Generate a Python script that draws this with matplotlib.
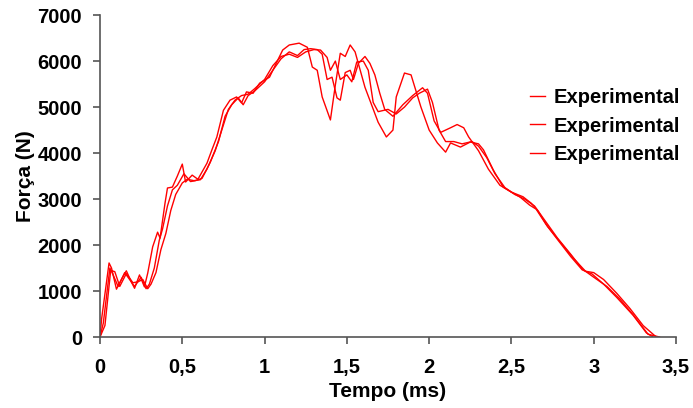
import matplotlib
matplotlib.use('Agg')
import matplotlib.pyplot as plt

plt.rcParams['font.family'] = ['Liberation Sans', 'DejaVu Sans']
plt.rcParams['font.weight'] = 'bold'

# curve 1 (deepest dips)
t1 = [0, 0.01, 0.055, 0.07, 0.10, 0.13, 0.16, 0.19, 0.21, 0.24, 0.27, 0.29, 0.32, 0.35, 0.365,
      0.395, 0.41, 0.44, 0.47, 0.50, 0.52, 0.56, 0.595, 0.65, 0.68, 0.71, 0.75, 0.79, 0.83, 0.86,
      0.89, 0.93, 0.97, 1.03, 1.08, 1.11, 1.15, 1.21, 1.26, 1.29, 1.32, 1.35, 1.40, 1.43, 1.46,
      1.49, 1.52, 1.55, 1.61, 1.69, 1.74, 1.78, 1.80, 1.85, 1.89, 1.95, 2.00, 2.05, 2.10, 2.13,
      2.19, 2.25, 2.30, 2.33, 2.39, 2.45, 2.50, 2.55, 2.61, 2.65, 2.71, 2.78, 2.86, 2.93, 2.99,
      3.06, 3.14, 3.24, 3.32, 3.36]
f1 = [0, 400, 1610, 1500, 1040, 1250, 1440, 1200, 1060, 1350, 1090, 1390, 1960, 2280, 2150,
      2910, 3240, 3260, 3500, 3760, 3370, 3520, 3430, 3780, 4070, 4350, 4930, 5150, 5220, 5090,
      5330, 5300, 5520, 5650, 6020, 6240, 6350, 6390, 6300, 5870, 5800, 5220, 4720, 5480, 6170,
      6100, 6350, 6200, 5430, 4670, 4350, 4500, 5220, 5740, 5700, 5000, 4500, 4220, 4020, 4220,
      4130, 4240, 4200, 4070, 3630, 3260, 3150, 3050, 2870, 2780, 2450, 2120, 1750, 1460, 1370,
      1150, 860, 470, 90, 0]

# curve 2
t2 = [0, 0.02, 0.06, 0.08, 0.11, 0.15, 0.18, 0.21, 0.25, 0.28, 0.30, 0.33, 0.36, 0.38, 0.41,
      0.44, 0.47, 0.51, 0.55, 0.58, 0.62, 0.67, 0.72, 0.76, 0.80, 0.84, 0.87, 0.90, 0.94, 0.97,
      1.00, 1.05, 1.10, 1.15, 1.20, 1.24, 1.28, 1.32, 1.35, 1.38, 1.41, 1.44, 1.46, 1.49, 1.52,
      1.54, 1.57, 1.61, 1.64, 1.67, 1.70, 1.73, 1.78, 1.84, 1.90, 1.96, 1.99, 2.03, 2.07, 2.13,
      2.17, 2.21, 2.24, 2.30, 2.36, 2.43, 2.50, 2.57, 2.62, 2.66, 2.72, 2.80, 2.88, 2.95, 3.00,
      3.06, 3.14, 3.22, 3.30, 3.38]
f2 = [0, 300, 1500, 1350, 1100, 1400, 1250, 1100, 1300, 1050, 1150, 1500, 2100, 2350, 2850,
      3200, 3300, 3550, 3380, 3400, 3450, 3800, 4250, 4800, 5050, 5200, 5050, 5250, 5350, 5450,
      5550, 5800, 6050, 6200, 6120, 6250, 6270, 6250, 6150, 5600, 5650, 5200, 5150, 5750, 5800,
      5600, 5950, 6100, 5950, 5700, 5300, 4950, 4800, 5050, 5250, 5420, 5300, 4700, 4450, 4550,
      4620, 4550, 4350, 4050, 3650, 3300, 3150, 3050, 2910, 2750, 2400, 2050, 1700, 1430, 1400,
      1250, 950, 620, 250, 0]

# curve 3
t3 = [0, 0.03, 0.065, 0.09, 0.12, 0.16, 0.20, 0.23, 0.26, 0.29, 0.31, 0.34, 0.37, 0.40, 0.43,
      0.46, 0.50, 0.53, 0.57, 0.61, 0.65, 0.70, 0.74, 0.78, 0.82, 0.86, 0.90, 0.94, 1.00, 1.05,
      1.10, 1.15, 1.20, 1.25, 1.30, 1.34, 1.38, 1.40, 1.43, 1.46, 1.50, 1.53, 1.56, 1.60, 1.63,
      1.66, 1.69, 1.75, 1.80, 1.85, 1.90, 1.94, 1.99, 2.02, 2.06, 2.10, 2.15, 2.20, 2.26, 2.30,
      2.35, 2.40, 2.46, 2.52, 2.58, 2.64, 2.70, 2.78, 2.86, 2.93, 3.00, 3.08, 3.16, 3.24, 3.33,
      3.40]
f3 = [0, 250, 1450, 1420, 1100, 1380, 1180, 1200, 1250, 1050, 1150, 1400, 1900, 2250, 2750,
      3100, 3350, 3430, 3400, 3420, 3650, 4050, 4500, 4950, 5150, 5250, 5280, 5400, 5600, 5900,
      6100, 6150, 6080, 6200, 6250, 6240, 6080, 5800, 6000, 5600, 5700, 5550, 5980, 6000, 5800,
      5100, 4900, 4950, 4850, 5000, 5200, 5300, 5390, 5100, 4500, 4250, 4250, 4200, 4250, 4150,
      3900, 3550, 3250, 3100, 3000, 2850, 2550, 2150, 1800, 1480, 1300, 1100, 820, 480, 60,
      0]

labels = ['Experimental', 'Experimental', 'Experimental']

fig = plt.figure(figsize=(6.93, 4.08), dpi=100)
ax = fig.add_axes([0.1443, 0.174, 0.8312, 0.789])

for t, f, lab in zip([t1, t2, t3], [f1, f2, f3], labels):
    ax.plot(t, f, color='red', lw=1.0, label=lab)

ax.set_xlim(0, 3.5)
ax.set_ylim(0, 7000)
ax.set_xticks([0, 0.5, 1, 1.5, 2, 2.5, 3, 3.5])
ax.set_xticklabels(['0', '0,5', '1', '1,5', '2', '2,5', '3', '3,5'])
ax.set_yticks(range(0, 7001, 1000))
ax.tick_params(labelsize=14.5, direction='out', length=5, color='#555555', width=1.2)
ax.tick_params(axis='x', pad=10)
ax.tick_params(axis='y', pad=8)
for s in ['top', 'right']:
    ax.spines[s].set_visible(False)
for s in ['left', 'bottom']:
    ax.spines[s].set_color('#555555')
    ax.spines[s].set_linewidth(1.2)

ax.set_xlabel('Tempo (ms)', fontsize=15, fontweight='bold', labelpad=4)
ax.set_ylabel('Força (N)', fontsize=15, fontweight='bold', labelpad=2)

ax.legend(loc='center left', bbox_to_anchor=(530 / 693, 1 - 126 / 408),
          bbox_transform=fig.transFigure, frameon=False, fontsize=14.5,
          handlelength=0.75, handletextpad=0.4, labelspacing=0.45,
          borderpad=0, borderaxespad=0)

fig.savefig('out.png', dpi=100)
